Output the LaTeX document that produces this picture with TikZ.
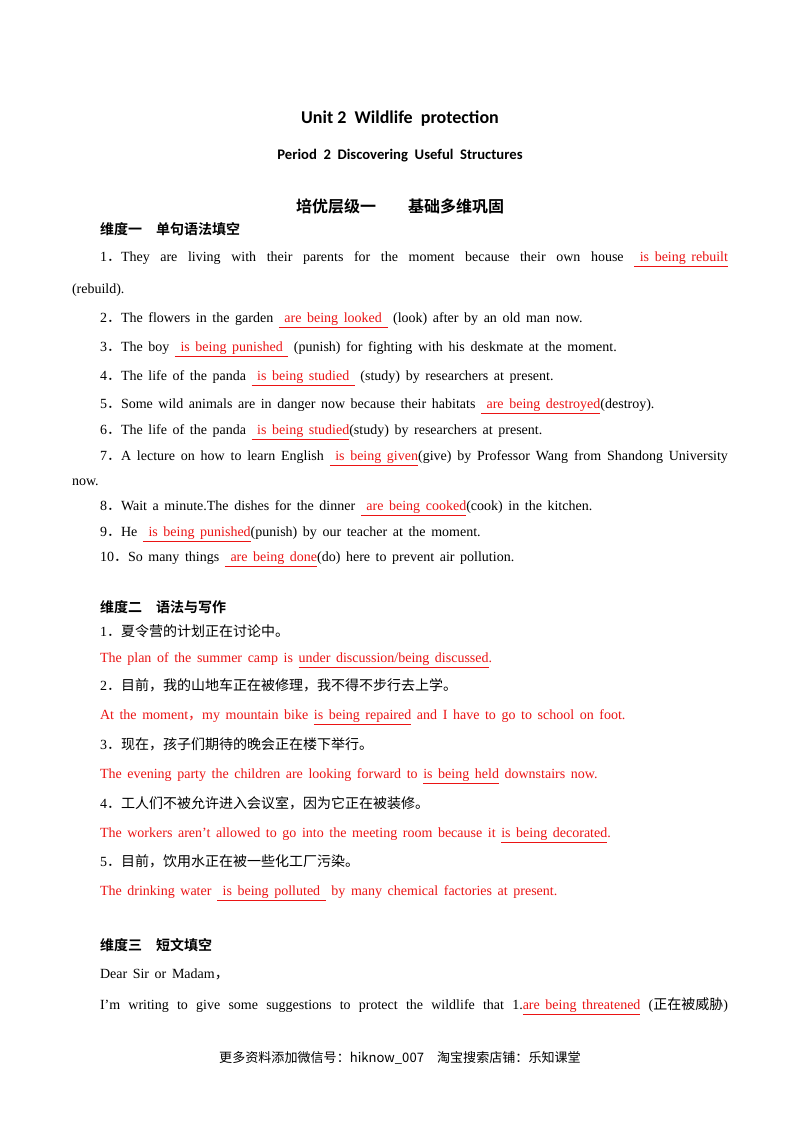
\documentclass[tikz,border=0pt]{standalone}
\usepackage{fontspec}
\setmainfont[WordSpace=1.6]{Liberation Serif}
\newfontfamily\cjk[BoldFont={Noto Sans CJK SC Bold}]{Noto Sans CJK SC}
\newfontfamily\titlef{Carlito}
\definecolor{ansred}{RGB}{235,20,20}
\newcommand{\ans}[1]{\textcolor{ansred}{\underline{#1}}}
\newcommand{\fl}[1]{\makebox[492pt][s]{#1}}
\newcommand{\dt}{{\cjk ．}}
\newcommand{\ap}{{\char"27}}
\begin{document}
\begin{tikzpicture}[x=0.75pt,y=-0.75pt]
\tikzset{every node/.style={inner sep=0pt,outer sep=0pt,anchor=base west,font=\fontsize{10.5}{12}\selectfont},
 hd/.style={font=\fontsize{10.5}{12}\selectfont\cjk\bfseries},
 rl/.style={text=ansred}}
\useasboundingbox[fill=white] (0,0) rectangle (800,1132);
\node[anchor=base,font=\fontsize{13.5}{15}\selectfont\titlef\bfseries] (t1) at (400,123) {Unit\ 2\ \ Wildlife\ \ protection};
\node[anchor=base,font=\fontsize{11}{13}\selectfont\titlef\bfseries] (t2) at (400,159) {Period\ \ 2\ \ Discovering\ \ Useful\ \ Structures};
\node[anchor=base,font=\fontsize{12}{14}\selectfont\cjk\bfseries] (t3) at (400,212) {培优层级一\hspace{2em}基础多维巩固};
\node[hd] (d1) at (100,234) {维度一\hspace{1em}单句语法填空};
\node (q1) at (72,261) {\fl{\hspace{21pt}1\dt They are living with their parents for the moment because their own house \ans{\ is being rebuilt}}};
\node (q1b) at (72,293) {(rebuild).};
\node (q2) at (100,322) {2\dt The flowers in the garden \ans{ are being looked } (look) after by an old man now.};
\node (q3) at (100,351) {3\dt The boy \ans{ is being punished } (punish) for fighting with his deskmate at the moment.};
\node (q4) at (100,380) {4\dt The life of the panda \ans{ is being studied } (study) by researchers at present.};
\node (q5) at (100,408) {5\dt Some wild animals are in danger now because their habitats \ans{ are being destroyed}(destroy).};
\node (q6) at (100,434) {6\dt The life of the panda \ans{ is being studied}(study) by researchers at present.};
\node (q7) at (72,460) {\fl{\hspace{21pt}7\dt A lecture on how to learn English \ans{ is being given}(give) by Professor Wang from Shandong University}};
\node (q7b) at (72,485) {now.};
\node (q8) at (100,510) {8\dt Wait a minute.The dishes for the dinner \ans{ are being cooked}(cook) in the kitchen.};
\node (q9) at (100,536) {9\dt He \ans{ is being punished}(punish) by our teacher at the moment.};
\node (q10) at (100,561) {10\dt So many things \ans{ are being done}(do) here to prevent air pollution.};
\node[hd] (d2) at (100,612) {维度二\hspace{1em}语法与写作};
\node (c1) at (100,636) {1\dt{\cjk 夏令营的计划正在讨论中。}};
\node[rl] (a1) at (100,662) {The plan of the summer camp is \ans{under discussion/being discussed}.};
\node (c2) at (100,690) {2\dt{\cjk 目前，我的山地车正在被修理，我不得不步行去上学。}};
\node[rl] (a2) at (100,719) {At the moment{\cjk ，}my mountain bike \ans{is being repaired} and I have to go to school on foot.};
\node (c3) at (100,749) {3\dt{\cjk 现在，孩子们期待的晚会正在楼下举行。}};
\node[rl] (a3) at (100,778) {The evening party the children are looking forward to \ans{is being held} downstairs now.};
\node (c4) at (100,808) {4\dt{\cjk 工人们不被允许进入会议室，因为它正在被装修。}};
\node[rl] (a4) at (100,837) {The workers aren\ap t allowed to go into the meeting room because it \ans{is being decorated}.};
\node (c5) at (100,866) {5\dt{\cjk 目前，饮用水正在被一些化工厂污染。}};
\node[rl] (a5) at (100,895) {The drinking water \ans{ is being polluted } by many chemical factories at present.};
\node[hd] (d3) at (100,950) {维度三\hspace{1em}短文填空};
\node (p1) at (100,978) {Dear Sir or Madam{\cjk ，}};
\node (p2) at (100,1009) {\makebox[471pt][s]{I\ap m writing to give some suggestions to protect the wildlife that 1.\ans{are being threatened} ({\cjk 正在被威胁})}};
\node[anchor=base,font=\fontsize{9.8}{12}\selectfont\cjk] (ft) at (400,1062) {更多资料添加微信号：hiknow\_007\quad 淘宝搜索店铺：乐知课堂};
\end{tikzpicture}
\end{document}
